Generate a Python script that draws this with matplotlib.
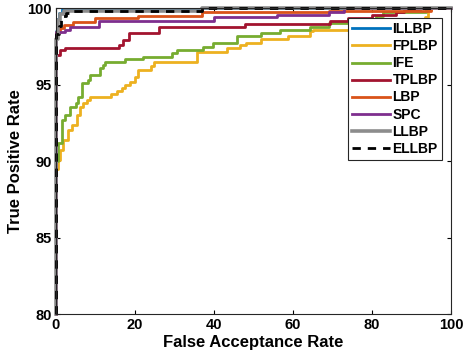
import matplotlib.pyplot as plt

plt.rcParams["font.family"] = ["Liberation Sans", "DejaVu Sans"]
plt.rcParams["font.weight"] = "bold"

# ── data (step corners, FAR %, TPR %) ──────────────────────────────────────
illbp_x = [0, 0, 0.3, 0.8, 1.5, 36, 37, 100]
illbp_y = [80, 98.5, 99.3, 99.7, 99.95, 99.95, 100, 100]

fplbp_x = [0, 0, 0.5, 1, 1.8, 3, 4, 5.3, 6, 6.8, 7.8, 8.6, 14, 15.5, 16.7, 17.5,
           18.7, 20, 20.8, 24, 24.8, 35.7, 43.3, 46.6, 48, 52, 58.7, 64.3, 65,
           93.4, 94.2, 95, 100]
fplbp_y = [80, 89.5, 90.1, 90.7, 91.4, 92, 92.35, 93, 93.5, 93.8, 94, 94.2, 94.4,
           94.6, 94.77, 94.97, 95.17, 95.5, 95.95, 96.2, 96.5, 97.15, 97.38, 97.58,
           97.73, 97.95, 98.17, 98.52, 98.56, 99.4, 99.87, 100, 100]

ife_x = [0, 0, 0.5, 1.5, 2.3, 3.5, 5.2, 5.6, 6.6, 8.1, 8.6, 11.1, 11.9, 12.4,
         17.5, 22, 29.4, 30.6, 37.2, 39.7, 45.8, 52, 56.7, 64.3, 69, 74, 81,
         82.8, 93.5, 100]
ife_y = [80, 90, 91.2, 92.7, 93, 93.5, 93.8, 94.2, 95.1, 95.3, 95.6, 96.1, 96.3,
         96.5, 96.65, 96.78, 97.05, 97.25, 97.45, 97.7, 98.15, 98.37, 98.56,
         98.78, 99.0, 99.3, 99.5, 99.75, 100, 100]

tplbp_x = [0, 0, 1, 2.3, 16, 17, 18.5, 26, 47.8, 69.4, 74, 80, 86, 88, 92, 100]
tplbp_y = [80, 96.9, 97.25, 97.4, 97.6, 97.9, 98.35, 98.76, 98.95, 99.17, 99.33,
           99.55, 99.76, 99.87, 100, 100]

lbp_x = [0, 0, 1, 2, 4.3, 9.9, 20.8, 37, 69, 95, 100]
lbp_y = [80, 98.4, 98.7, 98.9, 99.1, 99.35, 99.5, 99.76, 99.8, 100, 100]

spc_x = [0, 0, 2.3, 3.5, 11, 40, 56, 69, 73, 100]
spc_y = [80, 98.4, 98.55, 98.75, 99.15, 99.39, 99.56, 99.76, 100, 100]

llbp_x = [0, 0, 0.5, 1, 2, 36, 37, 100]
llbp_y = [80, 98, 99.2, 99.6, 99.82, 99.82, 100, 100]

ellbp_x = [0, 0, 0.8, 1.3, 1.8, 2.5, 3.5, 36, 37, 100]
ellbp_y = [80, 98.3, 98.8, 99.2, 99.5, 99.7, 99.82, 99.82, 100, 100]


def main():
    fig = plt.figure(figsize=(4.7, 3.64), dpi=100)
    ax = fig.add_axes([0.119, 0.137, 0.841, 0.841])

    for xs, ys, label, color, lw, ls in [
        (illbp_x, illbp_y, "ILLBP", "#0072BD", 2.0, "-"),
        (fplbp_x, fplbp_y, "FPLBP", "#EDB120", 2.0, "-"),
        (ife_x, ife_y, "IFE", "#77AC30", 2.0, "-"),
        (tplbp_x, tplbp_y, "TPLBP", "#A2142F", 2.0, "-"),
        (lbp_x, lbp_y, "LBP", "#D95319", 2.0, "-"),
        (spc_x, spc_y, "SPC", "#7E2F8E", 2.0, "-"),
        (llbp_x, llbp_y, "LLBP", "#8C8C8C", 2.6, "-"),
        (ellbp_x, ellbp_y, "ELLBP", "black", 2.0, (0, (3, 2.5))),
    ]:
        ax.plot(xs, ys, color=color, lw=lw, ls=ls, drawstyle="steps-post",
                label=label, clip_on=False)

    ax.set_xlim(0, 100)
    ax.set_ylim(80, 100)
    ax.set_xticks([0, 20, 40, 60, 80, 100])
    ax.set_yticks([80, 85, 90, 95, 100])
    ax.tick_params(direction="in", top=True, right=True, length=3,
                   labelsize=10.5, width=0.8, pad=3)
    for s in ax.spines.values():
        s.set_linewidth(0.8)
        s.set_color("#262626")
    ax.set_xlabel("False Acceptance Rate", fontsize=12, fontweight="bold", labelpad=2)
    ax.set_ylabel("True Positive Rate", fontsize=12, fontweight="bold", labelpad=3)

    leg = ax.legend(loc="upper right", bbox_to_anchor=(0.977, 0.967),
                    borderaxespad=0, fontsize=10, handlelength=2.7,
                    handletextpad=0.2, labelspacing=0.22, fancybox=False,
                    framealpha=1, edgecolor="#262626", borderpad=0.3)
    leg.get_frame().set_linewidth(0.8)

    fig.savefig("out.png", dpi=100, facecolor="white")
    plt.close(fig)


if __name__ == "__main__":
    main()
